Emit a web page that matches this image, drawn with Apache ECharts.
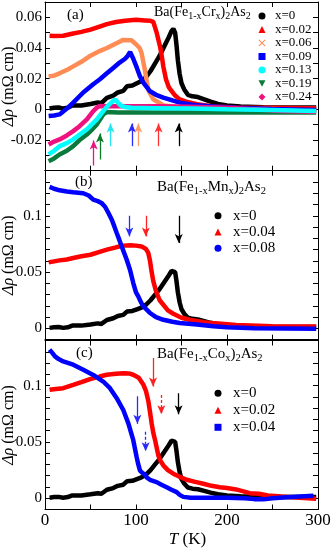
<!DOCTYPE html>
<html><head><meta charset="utf-8">
<script src="https://cdn.jsdelivr.net/npm/echarts@6/dist/echarts.min.js"></script>
<style>html,body{margin:0;padding:0;background:#fff}#c{width:332px;height:550px}</style>
</head><body><div id="c"></div>
<script>
// ---------- DATA ----------
// parent compound BaFe2As2 (x=0), same curve in all three panels
const parentX0 = [[5,0.0005],[10,0.001],[15,0.0012],[20,0.0005],[25,0.001],[30,0.0025],[40,0.0025],[50,0.0035],[58,0.0045],[62,0.004],[68,0.0075],[75,0.009],[80,0.011],[86,0.012],[90,0.015],[96,0.0155],[101,0.017],[106,0.0185],[111,0.021],[116,0.025],[121,0.03],[126,0.035],[131,0.041],[136,0.047],[139,0.051],[141,0.0525],[143,0.05],[144.5,0.042],[146,0.032],[148,0.023],[150,0.017],[153,0.013],[157,0.0095],[162,0.0085],[168,0.008],[175,0.0065],[182,0.005],[190,0.0035],[200,0.0025],[215,0.0018],[240,0.0014],[270,0.0012],[298,0.0012]];
// (a) Cr doped
const cr002 = [[5,0.048],[10,0.0478],[20,0.048],[31,0.0495],[40,0.0505],[50,0.052],[60,0.054],[68,0.0556],[78,0.057],[88,0.0578],[100,0.0584],[110,0.058],[116,0.0577],[119,0.057],[122.7,0.05],[126.4,0.041],[128.5,0.034],[130,0.028],[133,0.0195],[136,0.0145],[139,0.012],[143,0.009],[148,0.0065],[155,0.005],[167,0.0033],[185,0.0018],[210,0.0012],[250,0.001],[298,0.0008]];
const cr006 = [[4,0.0214],[10,0.022],[16,0.0235],[25,0.026],[31,0.028],[40,0.031],[50,0.035],[60,0.038],[68,0.04],[78,0.043],[86,0.0453],[95,0.045],[100,0.0425],[104,0.04],[106,0.037],[108,0.031],[110,0.025],[112,0.0176],[114,0.012],[119,0.0065],[125,0.0045],[130,0.0026],[145,0.0015],[170,0.001],[220,0.0005],[260,0],[298,-0.001]];
const cr009 = [[4,-0.0044],[10,-0.004],[16,-0.0033],[24,0.0005],[31,0.0044],[42,0.011],[53,0.0164],[60,0.0195],[68,0.0235],[75,0.027],[82,0.0305],[88,0.033],[91,0.035],[93.5,0.0375],[97,0.033],[101,0.027],[104,0.022],[108,0.0174],[115,0.012],[122,0.0095],[130,0.0077],[140,0.0058],[148,0.0044],[167,0.0026],[185,0.0018],[210,0.001],[250,0.0002],[298,-0.0005]];
const cr013 = [[4,-0.0294],[10,-0.027],[16,-0.024],[24,-0.022],[31,-0.0196],[38,-0.0165],[46,-0.0131],[52,-0.0095],[57,-0.0065],[64,-0.0011],[69.6,0.0026],[74,0.005],[77,0.0065],[80,0.0045],[83,0.0026],[88,0.0015],[95,0.001],[120,0.0008],[160,0.0005],[200,0],[250,-0.0005],[298,-0.001]];
const cr019 = [[4,-0.0338],[10,-0.032],[16,-0.0294],[24,-0.027],[31,-0.024],[38,-0.02],[46,-0.0164],[52,-0.013],[57,-0.0098],[64,-0.0033],[68,-0.0018],[80,-0.002],[120,-0.002],[180,-0.002],[240,-0.002],[298,-0.002]];
const cr024 = [[4,-0.0229],[10,-0.021],[16,-0.0196],[24,-0.017],[31,-0.0142],[38,-0.011],[46,-0.0065],[53,-0.0011],[57,0.0011],[60,0.0022],[70,0.002],[90,0.002],[130,0.002],[170,0.0015],[200,0.001],[230,0],[260,-0.001],[298,-0.0015]];
// (b) Mn doped
const mn004 = [[4,0.0586],[10,0.0595],[16,0.0604],[24,0.0612],[31,0.0625],[40,0.064],[50,0.0654],[60,0.068],[68,0.0699],[78,0.072],[86,0.0735],[94,0.0738],[100,0.0735],[106,0.0728],[111,0.0705],[113.5,0.067],[115.4,0.06],[117,0.051],[119,0.042],[122,0.033],[126,0.025],[130,0.021],[135,0.016],[141,0.013],[150,0.0095],[160,0.0075],[175,0.0055],[187,0.0045],[210,0.003],[250,0.002],[298,0.0018]];
const mn008 = [[5,0.1256],[10,0.124],[16,0.1226],[24,0.1215],[31,0.1208],[42,0.12],[48,0.118],[53,0.1143],[58,0.113],[62,0.1114],[66,0.108],[70,0.102],[73.4,0.0965],[76,0.091],[78.8,0.0847],[81.5,0.079],[84.3,0.0728],[87,0.067],[89.8,0.061],[93.4,0.0521],[97,0.0403],[100,0.032],[102.5,0.0284],[105,0.024],[108,0.0195],[112,0.0165],[115.4,0.0137],[122,0.01],[130,0.0077],[140,0.006],[148,0.0048],[167,0.0035],[185,0.002],[200,0.001],[230,0.0002],[298,-0.0003]];
// (c) Co doped
const co002 = [[5,0.0962],[12,0.097],[20,0.0977],[31,0.1006],[40,0.103],[49.5,0.1057],[60,0.108],[67.8,0.1096],[78,0.1105],[86,0.111],[92,0.1108],[97,0.1096],[103,0.107],[108,0.101],[111,0.095],[113.6,0.086],[115.5,0.076],[117.2,0.0664],[119,0.058],[121,0.0515],[124.5,0.0381],[127,0.033],[130,0.0292],[135,0.025],[141,0.0218],[148,0.019],[155.7,0.0164],[165,0.0145],[174,0.0129],[183,0.011],[192,0.0098],[200,0.009],[210,0.0078],[225,0.0045],[235,0.004],[245,0.0024],[260,0.0015],[280,0.0005],[298,-0.0005]];
const co004 = [[5,0.1319],[8,0.129],[11,0.1259],[15,0.1235],[20,0.1214],[31,0.1185],[42,0.114],[53,0.1094],[64,0.1036],[71.4,0.0977],[78.8,0.0888],[86,0.0783],[91.6,0.0664],[97,0.0515],[100.7,0.0366],[102.5,0.03],[104.4,0.0245],[107,0.0225],[110,0.021],[111.7,0.0185],[116,0.016],[122.7,0.0143],[128,0.012],[133.7,0.0098],[139,0.0075],[144.7,0.0054],[148,0.003],[152,0.0012],[160,0.0005],[180,0.0005],[200,0.0005],[220,0],[230,-0.0008],[240,-0.001],[250,0],[270,0.001],[295,0.0022]];

// legend labels
const crNames = ['x=0','x=0.02','x=0.06','x=0.09','x=0.13','x=0.19','x=0.24'];
const mnNames = ['x=0','x=0.04','x=0.08'];
const coNames = ['x=0','x=0.02','x=0.04'];

// transition arrows: temperature, start value, end value
const crArrowT    = [53.5, 60.4, 72, 95.5, 102.5, 124.8, 147];
const crArrowFrom = [-0.0366, -0.0327, -0.024, -0.024, -0.024, -0.024, -0.024];
const crArrowTo   = [-0.0203, -0.0157, -0.0092, -0.0092, -0.0092, -0.0092, -0.0092];
const mnArrowT    = [92.7, 110.8, 147];
const mnArrowFrom = [0.1, 0.1, 0.1];
const mnArrowTo   = [0.0817, 0.0817, 0.0758];
const coArrowT    = [118.7, 127.8, 146.8, 101.5, 110.6];
const coArrowFrom = [0.1245, 0.0917, 0.0932, 0.0905, 0.0589];
const coArrowTo   = [0.0991, 0.0745, 0.0745, 0.066, 0.0418];

// ---------- STYLE ----------
const FONT = '"Liberation Serif","Times New Roman",serif';
const C = {k:'#000000', r:'#ff0000', o:'#ff8c55', b:'#0000ff', c:'#00ffff', g:'#0b7a3c', p:'#f0127f'};
const ICON_X = 'path://M1,0L5,4L9,0L10,1L6,5L10,9L9,10L5,6L1,10L0,9L4,5L0,1Z';
const ICON_DOWN = 'path://M0,0L10,0L5,9Z';

const chart = echarts.init(document.getElementById('c'), null, {renderer:'canvas'});

const grids = [
  {left:45, right:14, top:2, height:168.7, containLabel:false, outerBoundsMode:'none'},
  {left:45, right:14, top:170.7, height:169, containLabel:false, outerBoundsMode:'none'},
  {left:45, right:14, top:340.5, height:169, containLabel:false, outerBoundsMode:'none'}
];
const yRanges = [[-0.04,0.07],[-0.01,0.14],[-0.01,0.14]];

function yFmtA(v){ const r=Math.round(v*100); if (r%2!==0||r<-2||r>6) return ''; return r===0?'0':(r/100).toFixed(2); }
function yFmtBC(v){ const r=Math.round(v*100); return r===0?'0':r===5?'0.05':r===10?'0.1':''; }

const xAxes=[], yAxes=[];
const tick = {show:true, inside:true, length:5, lineStyle:{color:'#000', width:1}};
const line = {show:true, onZero:false, lineStyle:{color:'#000', width:1}};
for (let i=0;i<3;i++){
  xAxes.push({type:'value', gridIndex:i, position:'bottom', min:0, max:300, interval:50,
    axisLine:line, axisTick:tick, splitLine:{show:false},
    axisLabel:{show:i===2, showMinLabel:true, showMaxLabel:true, margin:3, fontFamily:FONT, fontSize:17, color:'#000',
      formatter:v=> (v%100===0? String(v):'')},
    name: i===2 ? '{i|T} (K)' : '', nameLocation:'middle', nameGap:22, nameMoveOverlap:false,
    nameTextStyle:{fontFamily:FONT, fontSize:17, color:'#000', padding:[0,0,0,12], rich:{i:{fontFamily:FONT,fontSize:17,fontStyle:'italic',color:'#000'}}}
  });
  xAxes.push({type:'value', gridIndex:i, position:'top', min:0, max:300, interval:50,
    axisLine:line, axisTick:tick, splitLine:{show:false}, axisLabel:{show:false}});
  yAxes.push({type:'value', gridIndex:i, position:'left', min:yRanges[i][0], max:yRanges[i][1], interval:0.01,
    axisLine:line, axisTick:tick, splitLine:{show:false},
    axisLabel:{show:true, showMinLabel:true, showMaxLabel:true, margin:3, fontFamily:FONT, fontSize:15, color:'#000', formatter: i===0?yFmtA:yFmtBC},
    name:'{i|Δρ} (mΩ cm)', nameLocation:'middle', nameGap:28, nameMoveOverlap:false,
    nameTextStyle:{fontFamily:FONT, fontSize:16, color:'#000', rich:{i:{fontFamily:FONT,fontSize:16,fontStyle:'italic',color:'#000'}}}
  });
  yAxes.push({type:'value', gridIndex:i, position:'right', min:yRanges[i][0], max:yRanges[i][1], interval:0.01,
    axisLine:line, axisTick:tick, splitLine:{show:false}, axisLabel:{show:false}});
}

function mk(name, data, color, panel){
  return {type:'line', name, data, xAxisIndex:panel*2, yAxisIndex:panel*2,
    symbol:'none', showSymbol:false, lineStyle:{color, width:4.5}, itemStyle:{color},
    silent:true, z:2};
}
function arrows(T, from, to, colors, dashed){
  return {silent:true, symbol:['none','arrow'], symbolSize:[6,9], label:{show:false},
    emphasis:{disabled:true}, animation:false,
    data: T.map((t,k)=>[{coord:[t,from[k]], lineStyle:{color:colors[k], width:1.3, type: dashed&&dashed[k]?[3,2]:'solid'}, itemStyle:{color:colors[k]}},
                        {coord:[t,to[k]]}])};
}

const sA0 = mk('x=0', parentX0, C.k, 0);
sA0.markLine = arrows(crArrowT, crArrowFrom, crArrowTo,
  ['#e8157f','#0b7a2a','#22e6f0','#2a2aff','#ff9966','#ff3333','#000']);
const sB0 = mk('x=0', parentX0, C.k, 1);
sB0.markLine = arrows(mnArrowT, mnArrowFrom, mnArrowTo, ['#2a2aff','#ff2222','#000']);
const sC0 = mk('x=0', parentX0, C.k, 2);
sC0.markLine = arrows(coArrowT, coArrowFrom, coArrowTo, ['#ff2222','#ff2222','#000','#2a2aff','#2a2aff'], [false,true,false,false,true]);

const series = [
  sA0,
  mk('x=0.02', cr002, C.r, 0),
  mk('x=0.06', cr006, C.o, 0),
  mk('x=0.09', cr009, C.b, 0),
  mk('x=0.19', cr019, C.g, 0),
  mk('x=0.24', cr024, C.p, 0),
  mk('x=0.13', cr013, C.c, 0),
  sB0,
  mk('x=0.04', mn004, C.r, 1),
  mk('x=0.08', mn008, C.b, 1),
  sC0,
  mk('x=0.02', co002, C.r, 2),
  mk('x=0.04', co004, C.b, 2)
];

function legend(names, icons, colors, left, top, pitch, fontSize, pad){
  return {show:true, orient:'vertical', left, top, padding:0, itemGap:0, itemWidth:7, itemHeight:7,
    selectedMode:false,
    textStyle:{fontFamily:FONT, fontSize, color:'#000', lineHeight:pitch, padding:[0,0,0,pad]},
    data: names.map((n,k)=>({name:n, icon:icons[k], itemStyle:{color:colors[k], borderWidth:0}}))};
}

function formula(el, size, sub){
  return {text:'{n|Ba(Fe}{s|1-x}{n|'+el+'}{s|x}{n|)}{s|2}{n|As}{s|2}',
    textStyle:{fontWeight:'normal', rich:{n:{fontFamily:FONT,fontSize:size,fontWeight:'normal',color:'#000'},
                     s:{fontFamily:FONT,fontSize:sub,fontWeight:'normal',color:'#000',padding:[8,0,0,0]}}}};
}

const option = {
  animation:false,
  backgroundColor:'#fff',
  grid:grids,
  xAxis:xAxes,
  yAxis:yAxes,
  title:[
    {text:'(a)', left:67, top:7.5, padding:0, textStyle:{fontFamily:FONT,fontSize:15,fontWeight:'normal',color:'#000'}},
    {text:'(b)', left:75, top:174.5, padding:0, textStyle:{fontFamily:FONT,fontSize:15,fontWeight:'normal',color:'#000'}},
    {text:'(c)', left:76, top:345.5, padding:0, textStyle:{fontFamily:FONT,fontSize:15,fontWeight:'normal',color:'#000'}},
    Object.assign({left:154, top:3.5, padding:0}, formula('Cr',14,10)),
    Object.assign({left:157, top:177.5, padding:0}, formula('Mn',15,10.5)),
    Object.assign({left:157, top:344.5, padding:0}, formula('Co',15,10.5))
  ],
  legend:[
    legend(crNames, ['circle','triangle',ICON_X,'rect','circle',ICON_DOWN,'diamond'],
      [C.k,C.r,C.o,C.b,C.c,C.g,C.p], 258.5, 9.25, 13.5, 13, 4.5),
    legend(mnNames, ['circle','triangle','circle'], [C.k,C.r,C.b], 214.5, 207.5, 16.3, 15, 6.5),
    legend(coNames, ['circle','triangle','rect'], [C.k,C.r,C.b], 214.5, 384.8, 17, 15, 6.5)
  ],
  series
};
chart.setOption(option);
</script></body></html>
